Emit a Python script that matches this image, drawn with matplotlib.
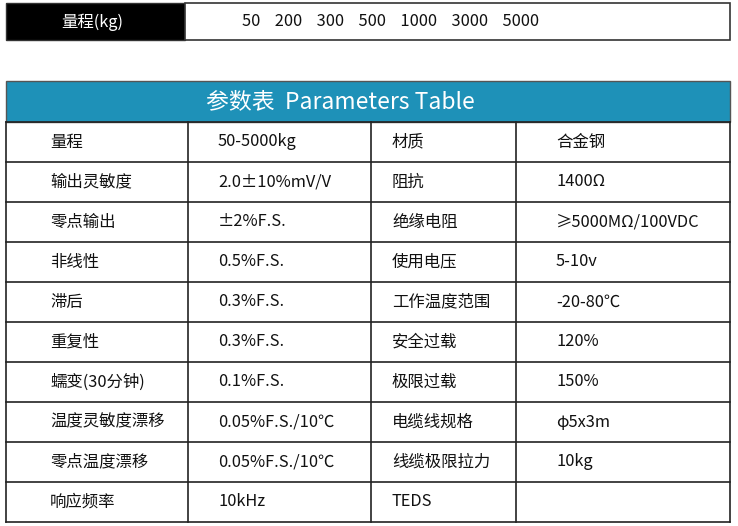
import matplotlib
matplotlib.use("Agg")
import matplotlib.pyplot as plt
from matplotlib.patches import Rectangle

plt.rcParams['font.family'] = ['Noto Sans CJK SC', 'DejaVu Sans']

range_label = "量程(kg)"
range_values = ["50", "200", "300", "500", "1000", "3000", "5000"]
title = "参数表  Parameters Table"
col1 = ["量程", "输出灵敏度", "零点输出", "非线性", "滞后", "重复性", "蠕变(30分钟)", "温度灵敏度漂移", "零点温度漂移", "响应频率"]
col2 = ["50-5000kg", "2.0±10%mV/V", "±2%F.S.", "0.5%F.S.", "0.3%F.S.", "0.3%F.S.", "0.1%F.S.", "0.05%F.S./10℃", "0.05%F.S./10℃", "10kHz"]
col3 = ["材质", "阻抗", "绝缘电阻", "使用电压", "工作温度范围", "安全过载", "极限过载", "电缆线规格", "线缆极限拉力", "TEDS"]
col4 = ["合金钢", "1400Ω", "≥5000MΩ/100VDC", "5-10v", "-20-80℃", "120%", "150%", "φ5x3m", "10kg", ""]

fig = plt.figure(figsize=(7.38, 5.26), dpi=100)
ax = fig.add_axes([0, 0, 1, 1])
ax.set_xlim(0, 738); ax.set_ylim(526, 0); ax.axis('off')

fs = 11.8
# top bar
ax.add_patch(Rectangle((6, 3), 179, 37, facecolor='black', edgecolor='#333', lw=1))
ax.add_patch(Rectangle((185, 3), 545, 37, facecolor='white', edgecolor='#333', lw=1.2))
ax.text(92, 22, range_label, color='white', fontsize=fs, ha='center', va='center', fontweight='medium')
ax.text(242, 22, "    ".join(range_values), color='#111', fontsize=fs, ha='left', va='center', fontweight='medium')

# header
top, hh, rh = 81, 41, 40
L, R = 6, 730
ax.add_patch(Rectangle((L, top), R - L, hh, facecolor='#1e91b8', edgecolor='#555', lw=1))
ax.text(340, top + hh / 2, title, color='white', fontsize=16.5, ha='center', va='center', fontweight='medium')

xs = [L, 188, 371, 516, R]
tx = [50, 218, 392, 556]
y0 = top + hh
n = len(col1)
for i in range(n + 1):
    ax.plot([L, R], [y0 + i * rh] * 2, color='#222', lw=1.2)
for x in xs:
    ax.plot([x, x], [y0, y0 + n * rh], color='#222', lw=1.2)
for i in range(n):
    yc = y0 + i * rh + rh / 2
    for j, col in enumerate([col1, col2, col3, col4]):
        ax.text(tx[j], yc, col[i], fontsize=fs, ha='left', va='center', color='#111', fontweight='medium')

fig.savefig("out.png", dpi=100)
